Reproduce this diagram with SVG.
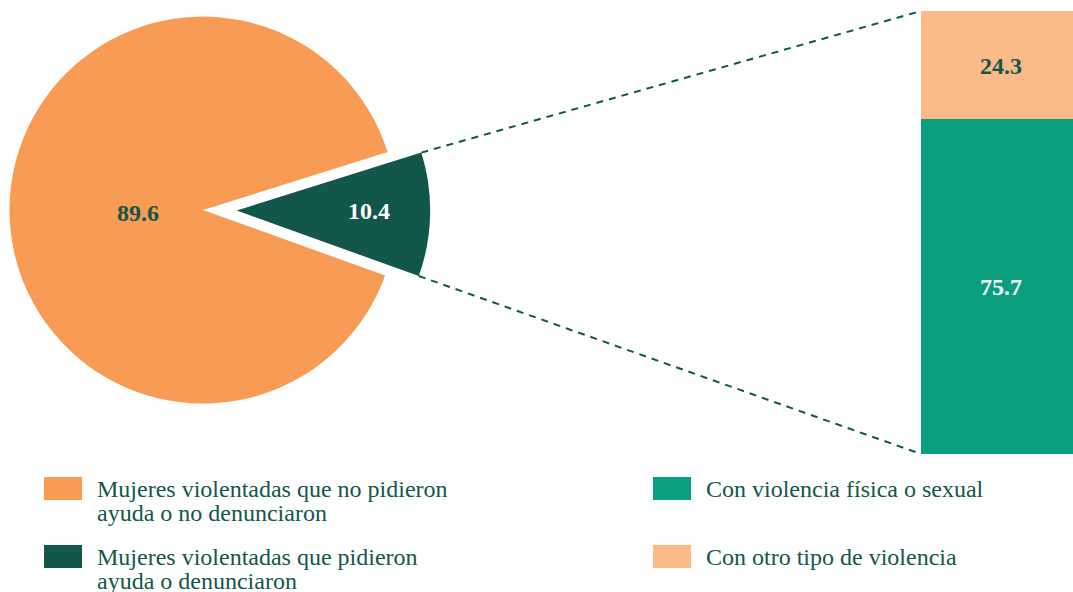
<svg xmlns="http://www.w3.org/2000/svg" width="1073" height="592" viewBox="0 0 1073 592">
<style>
.lbl{font-family:"Liberation Serif","Times New Roman",serif;font-weight:bold;font-size:24px;text-anchor:middle}
.leg{font-family:"Liberation Serif","Times New Roman",serif;font-size:24px;fill:#12574A}
.dash{fill:none;stroke:#12574A;stroke-width:2;stroke-dasharray:7 6}
</style>
<rect width="1073" height="592" fill="#FFFFFF"/>
<g id="slice-no-pidieron">
<path d="M203,210 L385.1,275.5 A193.5,193.5 0 1 1 387.6,152.1 Z" fill="#F79B55"/>
<text class="lbl" x="138" y="220.5" fill="#12574A">89.6</text>
</g>
<g id="slice-pidieron">
<path d="M236.7,210.5 L421.3,152.6 A193.5,193.5 0 0 1 418.8,276 Z" fill="#12574A"/>
<text class="lbl" x="369" y="218.5" fill="#FFFFFF">10.4</text>
</g>
<g id="connectors">
<line class="dash" x1="421.3" y1="152.6" x2="921" y2="11"/>
<line class="dash" x1="418.8" y1="276" x2="921" y2="454"/>
</g>
<g id="bar-otro">
<rect x="921" y="11" width="152" height="108" fill="#FBBA88"/>
<text class="lbl" x="1001" y="74" fill="#12574A">24.3</text>
</g>
<g id="bar-fisica">
<rect x="921" y="119" width="152" height="335" fill="#089E7E"/>
<text class="lbl" x="1001" y="295" fill="#FFFFFF">75.7</text>
</g>
<g id="legend-no-pidieron">
<rect x="44" y="477" width="38" height="23" fill="#F79B55"/>
<text class="leg" x="97" y="497">Mujeres violentadas que no pidieron</text>
<text class="leg" x="97" y="521">ayuda o no denunciaron</text>
</g>
<g id="legend-pidieron">
<rect x="44" y="545" width="38" height="23" fill="#12574A"/>
<text class="leg" x="97" y="565">Mujeres violentadas que pidieron</text>
<text class="leg" x="97" y="589">ayuda o denunciaron</text>
</g>
<g id="legend-fisica">
<rect x="653" y="477" width="38" height="23" fill="#089E7E"/>
<text class="leg" x="706" y="497">Con violencia física o sexual</text>
</g>
<g id="legend-otro">
<rect x="653" y="545" width="38" height="23" fill="#FBBA88"/>
<text class="leg" x="706" y="565">Con otro tipo de violencia</text>
</g>
</svg>
